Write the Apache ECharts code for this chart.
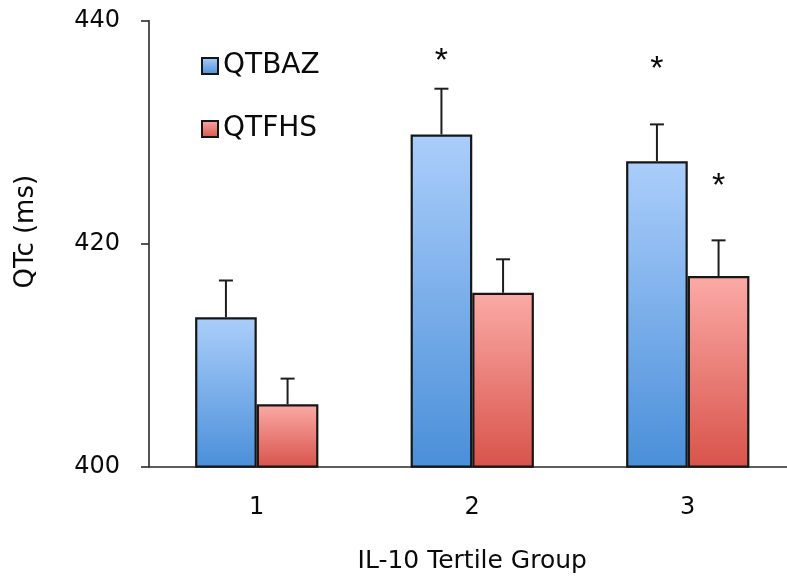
<!DOCTYPE html>
<html>
<head>
<meta charset="utf-8">
<script src="https://cdn.jsdelivr.net/npm/echarts@6/dist/echarts.min.js"></script>
<style>
  html, body { margin: 0; padding: 0; background: #fff; }
  #chart { width: 787px; height: 579px; }
</style>
</head>
<body>
<div id="chart"></div>
<script>
// Mean QTc by IL-10 tertile, with SE whiskers
const categories = ['1', '2', '3'];
const qtbaz = [413.4, 429.8, 427.4];
const qtfhs = [405.6, 415.6, 417.1];
const qtbazErr = [3.3, 4.1, 3.3];
const qtfhsErr = [2.3, 3.0, 3.2];
const yTickValues = [400, 420, 440];
// significance markers: [category index, y position, bar (0 = QTBAZ, 1 = QTFHS)]
const starMarks = [[1, 436.9, 0], [2, 436.2, 0], [2, 425.7, 1]];

const CAT_GAP = 0.428;
const FONT = 'DejaVu Sans';
const INK = '#0a0a0a';

function barOffset(api, pos) {
  const band = api.size([1, 0])[0];
  const bw = band * (1 - CAT_GAP) / 2;
  return pos === 0 ? -bw / 2 : bw / 2;
}

function errorBars(pos) {
  return function (params, api) {
    const i = api.value(0), v = api.value(1), e = api.value(2);
    const base = api.coord([i, v]);
    const top = api.coord([i, v + e]);
    const x = base[0] + barOffset(api, pos);
    const st = { stroke: '#1e1e1e', lineWidth: 2 };
    return {
      type: 'group',
      children: [
        { type: 'line', shape: { x1: x, y1: base[1], x2: x, y2: top[1] }, style: st },
        { type: 'line', shape: { x1: x - 7, y1: top[1], x2: x + 7, y2: top[1] }, style: st }
      ]
    };
  };
}

function stars(params, api) {
  const i = api.value(0), v = api.value(1), pos = api.value(2);
  const p = api.coord([i, v]);
  const size = 34;
  return {
    type: 'text',
    x: p[0] + barOffset(api, pos),
    y: p[1] + size * 0.18,
    style: {
      text: '*', fontSize: size, fontFamily: 'Liberation Sans',
      fill: INK, align: 'center', verticalAlign: 'middle'
    }
  };
}

const blueFill = new echarts.graphic.LinearGradient(0, 0, 0, 1, [
  { offset: 0, color: '#abcefb' }, { offset: 1, color: '#4a8fd9' }
]);
const redFill = new echarts.graphic.LinearGradient(0, 0, 0, 1, [
  { offset: 0, color: '#fbaaa6' }, { offset: 1, color: '#d8534a' }
]);

const chart = echarts.init(document.getElementById('chart'), null, { renderer: 'canvas' });
chart.setOption({
  animation: false,
  backgroundColor: '#fff',
  textStyle: { fontFamily: FONT, color: INK },
  grid: { left: 149, top: 20.7, width: 646.5, height: 446, outerBoundsMode: 'none', containLabel: false },
  legend: {
    data: ['QTBAZ', 'QTFHS'],
    orient: 'vertical',
    left: 196, top: 47,
    itemWidth: 16, itemHeight: 16, itemGap: 35,
    icon: 'rect',
    textStyle: { fontSize: 28, fontFamily: FONT, color: INK }
  },
  xAxis: {
    type: 'category',
    data: categories,
    name: 'IL-10 Tertile Group',
    nameLocation: 'middle',
    nameGap: 82,
    nameTextStyle: { fontSize: 25, fontFamily: FONT, color: INK },
    axisLine: { lineStyle: { color: '#2a2a2a', width: 1.6 } },
    axisTick: { length: 7, lineStyle: { color: '#2a2a2a', width: 1.6 } },
    axisLabel: { fontSize: 24, fontFamily: FONT, color: INK, margin: 29 }
  },
  yAxis: {
    type: 'value',
    min: yTickValues[0],
    max: yTickValues[yTickValues.length - 1],
    interval: yTickValues[1] - yTickValues[0],
    name: 'QTc (ms)',
    nameLocation: 'middle',
    nameGap: 110,
    nameTextStyle: { fontSize: 26, fontFamily: FONT, color: INK, padding: [0, 0, 0, 24] },
    axisLine: { show: true, lineStyle: { color: '#2a2a2a', width: 1.6 } },
    axisTick: { show: true, length: 8, lineStyle: { color: '#2a2a2a', width: 1.6 } },
    axisLabel: { fontSize: 24, fontFamily: FONT, color: INK, margin: 29 },
    splitLine: { show: false }
  },
  series: [
    {
      name: 'QTBAZ', type: 'bar', data: qtbaz,
      barGap: '0%', barCategoryGap: (CAT_GAP * 100) + '%',
      itemStyle: { color: blueFill, borderColor: '#161616', borderWidth: 2.2 }
    },
    {
      name: 'QTFHS', type: 'bar', data: qtfhs,
      barGap: '0%', barCategoryGap: (CAT_GAP * 100) + '%',
      itemStyle: { color: redFill, borderColor: '#161616', borderWidth: 2.2 }
    },
    {
      type: 'custom', name: 'QTBAZ SE', renderItem: errorBars(0), z: 3,
      data: qtbaz.map((v, i) => [i, v, qtbazErr[i]])
    },
    {
      type: 'custom', name: 'QTFHS SE', renderItem: errorBars(1), z: 3,
      data: qtfhs.map((v, i) => [i, v, qtfhsErr[i]])
    },
    {
      type: 'custom', name: 'significance', renderItem: stars, z: 4,
      data: starMarks
    }
  ]
});
</script>
</body>
</html>
